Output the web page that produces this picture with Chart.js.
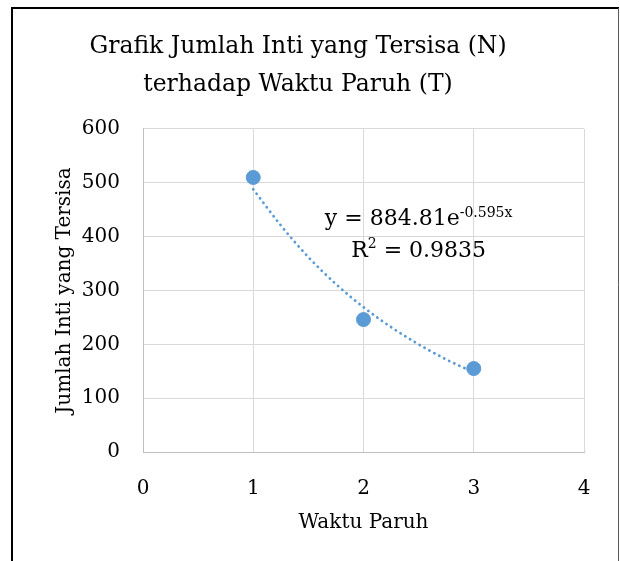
<!DOCTYPE html>
<html>
<head>
<meta charset="utf-8">
<script src="https://cdn.jsdelivr.net/npm/chart.js@4.4.1/dist/chart.umd.min.js"></script>
<style>
  html, body { margin: 0; padding: 0; background: #fff; }
  #wrap { position: relative; width: 620px; height: 561px; }
</style>
</head>
<body>
<div id="wrap"><canvas id="c" width="620" height="561"></canvas></div>
<script>
// ---- data ----
const waktuParuh = [1, 2, 3];
const jumlahInti = [510, 246, 155];
// exponential trendline
const trendX = [1, 1.25, 1.5, 1.75, 2, 2.25, 2.5, 2.75, 3];
const trendY = [488, 421, 362, 312, 269, 232, 200, 172, 148];
const xTicks = [0, 1, 2, 3, 4];
const yTicks = [0, 100, 200, 300, 400, 500, 600];
const titleLines = ['Grafik Jumlah Inti yang Tersisa (N)', 'terhadap Waktu Paruh (T)'];
const xTitle = 'Waktu Paruh';
const yTitle = 'Jumlah Inti yang Tersisa';
const eqMain = 'y = 884.81e';
const eqSup = '-0.595x';
const r2Text = 'R';
const r2Sup = '2';
const r2Rest = ' = 0.9835';

const FONT = "'DejaVu Serif', 'Liberation Serif', serif";
const BLUE = '#5B9BD5';
const GRID = '#D9D9D9';

const borderPlugin = {
  id: 'frame',
  beforeDraw(chart) {
    const ctx = chart.ctx;
    ctx.save();
    ctx.fillStyle = '#fff';
    ctx.fillRect(0, 0, chart.width, chart.height);
    ctx.strokeStyle = '#000';
    ctx.lineWidth = 2;
    ctx.beginPath();
    ctx.moveTo(12, chart.height);
    ctx.lineTo(12, 8);
    ctx.lineTo(chart.width - 1, 8);
    ctx.stroke();
    ctx.strokeStyle = '#595959';
    ctx.lineWidth = 1;
    ctx.beginPath();
    ctx.moveTo(chart.width - 1.5, 8);
    ctx.lineTo(chart.width - 1.5, chart.height);
    ctx.stroke();
    ctx.restore();
  }
};

const eqPlugin = {
  id: 'equation',
  afterDatasetsDraw(chart) {
    const ctx = chart.ctx;
    const xs = chart.scales.x, ys = chart.scales.y;
    const cx = xs.getPixelForValue(2.5);
    const y1 = ys.getPixelForValue(421);
    const y2 = y1 + 32;
    ctx.save();
    ctx.fillStyle = '#000';
    ctx.textBaseline = 'alphabetic';
    ctx.textAlign = 'left';
    const big = "22px " + FONT, small = "14px " + FONT;
    ctx.font = big; const w1 = ctx.measureText(eqMain).width;
    ctx.font = small; const w2 = ctx.measureText(eqSup).width;
    let x = cx - (w1 + w2) / 2;
    ctx.font = big; ctx.fillText(eqMain, x, y1);
    ctx.font = small; ctx.fillText(eqSup, x + w1, y1 - 8);
    ctx.font = big; const a = ctx.measureText(r2Text).width;
    ctx.font = small; const b = ctx.measureText(r2Sup).width;
    ctx.font = big; const c = ctx.measureText(r2Rest).width;
    x = cx - (a + b + c) / 2;
    ctx.font = big; ctx.fillText(r2Text, x, y2);
    ctx.font = small; ctx.fillText(r2Sup, x + a, y2 - 9);
    ctx.font = big; ctx.fillText(r2Rest, x + a + b, y2);
    ctx.restore();
  }
};

new Chart(document.getElementById('c'), {
  type: 'scatter',
  data: {
    datasets: [
      {
        label: 'Trendline',
        type: 'line',
        data: trendX.map((x, i) => ({ x, y: trendY[i] })),
        borderColor: BLUE,
        borderWidth: 2.8,
        borderDash: [0.1, 5.5],
        borderCapStyle: 'round',
        pointRadius: 0,
        cubicInterpolationMode: 'monotone',
        fill: false,
        order: 2
      },
      {
        label: 'N',
        data: waktuParuh.map((x, i) => ({ x, y: jumlahInti[i] })),
        backgroundColor: BLUE,
        borderColor: BLUE,
        pointRadius: 7,
        pointHoverRadius: 7,
        order: 1
      }
    ]
  },
  options: {
    responsive: false,
    animation: false,
    devicePixelRatio: 1,
    layout: { padding: { top: 28, left: 12, right: 36, bottom: 0 } },
    plugins: {
      legend: { display: false },
      tooltip: { enabled: false },
      title: {
        display: true,
        text: titleLines,
        color: '#000',
        font: { family: FONT, size: 23.5, weight: 'normal', lineHeight: 1.617 },
        padding: { top: 0, bottom: 25 }
      }
    },
    scales: {
      x: {
        type: 'linear',
        min: 0, max: 4,
        afterBuildTicks(s) { s.ticks = xTicks.map(v => ({ value: v })); },
        afterFit(s) { s.height = 109; },
        grid: { color: GRID, lineWidth: 1, drawTicks: false },
        border: { color: '#BFBFBF', width: 1 },
        ticks: { color: '#000', font: { family: FONT, size: 20 }, padding: 25 },
        title: { display: true, text: xTitle, color: '#000', font: { family: FONT, size: 20 }, padding: { top: 26, bottom: 26 } }
      },
      y: {
        type: 'linear',
        min: 0, max: 600,
        afterBuildTicks(s) { s.ticks = yTicks.map(v => ({ value: v })); },
        afterFit(s) { s.width = 131; },
        grid: { color: GRID, lineWidth: 1, drawTicks: false },
        border: { color: '#BFBFBF', width: 1 },
        ticks: { color: '#000', font: { family: FONT, size: 20 }, padding: 23 },
        title: { display: true, text: yTitle, color: '#000', font: { family: FONT, size: 20 }, padding: { top: 41, bottom: 41 } }
      }
    }
  },
  plugins: [borderPlugin, eqPlugin]
});
</script>
</body>
</html>
